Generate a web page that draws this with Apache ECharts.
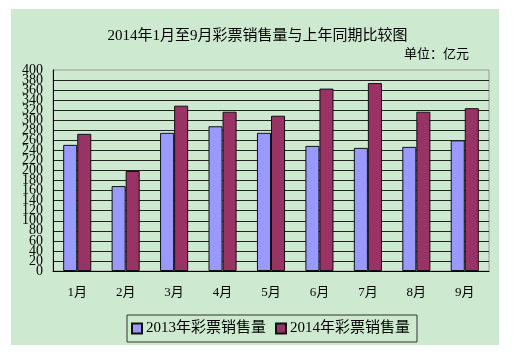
<!DOCTYPE html>
<html><head><meta charset="utf-8">
<script src="https://cdn.jsdelivr.net/npm/echarts@6/dist/echarts.min.js"></script>
<style>html,body{margin:0;padding:0;background:#fff}#c{width:515px;height:356px}</style>
</head><body><div id="c"></div>
<script>
var categories = ['1月','2月','3月','4月','5月','6月','7月','8月','9月'];
var sales2013 = [251, 169, 275, 288, 275, 249, 245, 247, 260];
var sales2014 = [273, 199, 329, 317, 309, 363, 374, 317, 324];
var seriesNames = ['2013年彩票销售量','2014年彩票销售量'];
var titleText = '2014年1月至9月彩票销售量与上年同期比较图';
var unitText = '单位：亿元';

var FONT = '"Liberation Serif", "Noto Sans CJK SC", serif';
var chart = echarts.init(document.getElementById('c'));
function lab(keepRem) {
  return {fontFamily: FONT, fontSize: 14, color: '#000', margin: 10, lineHeight: 10,
          showMinLabel: true, showMaxLabel: true,
          formatter: function (v) { return (v % 40 === keepRem) ? String(v) : ''; }};
}
chart.setOption({
  backgroundColor: '#fff',
  animation: false,
  graphic: [
    {type:'rect', z:-10, shape:{x:11,y:9,width:488,height:336}, style:{fill:'#CDE9D0'}},
    {type:'text', left:404, top:48, style:{text:unitText, font:'13px ' + FONT, fill:'#000'}}
  ],
  title: {
    text: titleText, left: 'center', top: 24,
    textStyle: {fontFamily: FONT, fontSize: 15, fontWeight: 'normal', color: '#000'}
  },
  legend: {
    left: 127, top: 315,
    padding: [6, 7, 6, 4],
    borderColor: '#333', borderWidth: 1,
    itemWidth: 10, itemHeight: 10, itemGap: 9,
    icon: 'rect',
    textStyle: {fontFamily: FONT, fontSize: 15, color: '#000', padding: [0,0,0,-1]},
    data: seriesNames
  },
  grid: {left: 53, right: 26, top: 70, bottom: 85, show: true, borderColor: '#999', borderWidth: 1},
  xAxis: {
    type: 'category', data: categories,
    axisLine: {lineStyle: {color: '#000', width: 1}},
    axisTick: {inside: true, length: 5, lineStyle: {color: '#000'}},
    axisLabel: {fontFamily: FONT, fontSize: 13, color: '#000', margin: 15}
  },
  yAxis: [{
    type: 'value', min: 0, max: 400, interval: 20, position: 'left',
    axisLine: {show: true, lineStyle: {color: '#000'}},
    axisTick: {show: false},
    axisLabel: lab(0),
    splitLine: {showMaxLine: false, lineStyle: {color: '#222', width: 1}}
  }, {
    type: 'value', min: 0, max: 400, interval: 20, position: 'left', offset: 0,
    axisLine: {show: false},
    axisTick: {show: false},
    axisLabel: lab(20),
    splitLine: {show: false}
  }],
  series: [
    {name: seriesNames[0], type: 'bar', data: sales2013, barGap: '0%', barCategoryGap: '42%',
     itemStyle: {color: '#9999FF', borderColor: '#111', borderWidth: 1}},
    {name: seriesNames[1], type: 'bar', data: sales2014,
     itemStyle: {color: '#993366', borderColor: '#111', borderWidth: 1}}
  ]
});
</script></body></html>
